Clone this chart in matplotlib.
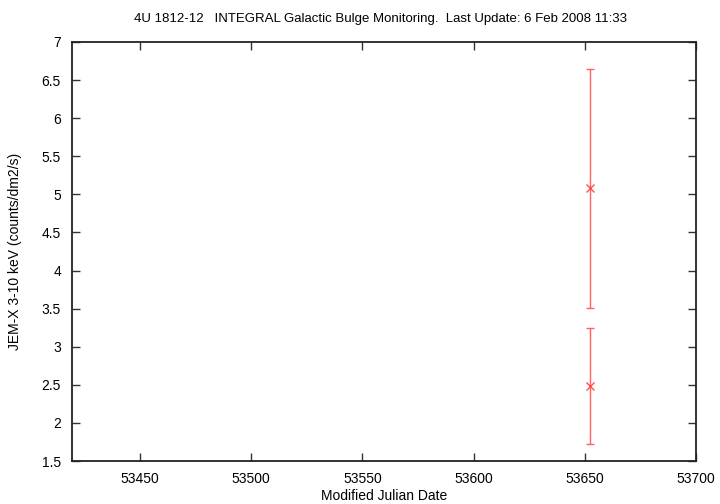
import matplotlib
matplotlib.use("Agg")
import matplotlib.pyplot as plt

plt.rcParams['font.family'] = ['Liberation Sans', 'DejaVu Sans']

# data
mjd = [53652.2, 53652.2]
flux = [5.08, 2.49]
err_lo = [5.08 - 3.51, 2.49 - 1.72]
err_hi = [6.645 - 5.08, 3.245 - 2.49]

xticks = [53450, 53500, 53550, 53600, 53650, 53700]
yticks = [1.5, 2, 2.5, 3, 3.5, 4, 4.5, 5, 5.5, 6, 6.5, 7]

fig = plt.figure(figsize=(7.2, 5.04), dpi=100)
ax = fig.add_axes([0.1, 0.0853, 0.8667, 0.8314])

ax.errorbar(mjd, flux, yerr=[err_lo, err_hi], fmt='x', color='#ff5050',
            ecolor='#ff6060', elinewidth=1, capsize=3, capthick=1,
            markersize=6, markeredgewidth=1)

ax.set_xlim(53419.5, 53700)
ax.set_ylim(1.5, 7)
ax.set_xticks(xticks)
ax.set_xticklabels([str(t) for t in xticks])
ax.set_yticks(yticks)
ax.set_yticklabels(['%g' % t for t in yticks])

ax.tick_params(direction='in', top=True, right=True, length=6, width=1,
               labelsize=10, pad=8, color='#333333')
for s in ax.spines.values():
    s.set_linewidth(1.3)
    s.set_color('#222222')

ax.set_xlabel('Modified Julian Date', fontsize=10, labelpad=2)
ax.set_ylabel('JEM-X 3-10 keV (counts/dm2/s)', fontsize=10, labelpad=14)
fig.text(0.528, 0.963, '4U 1812-12   INTEGRAL Galactic Bulge Monitoring.  Last Update: 6 Feb 2008 11:33',
         ha='center', va='center', fontsize=9.5)

fig.savefig('out.png', dpi=100)
